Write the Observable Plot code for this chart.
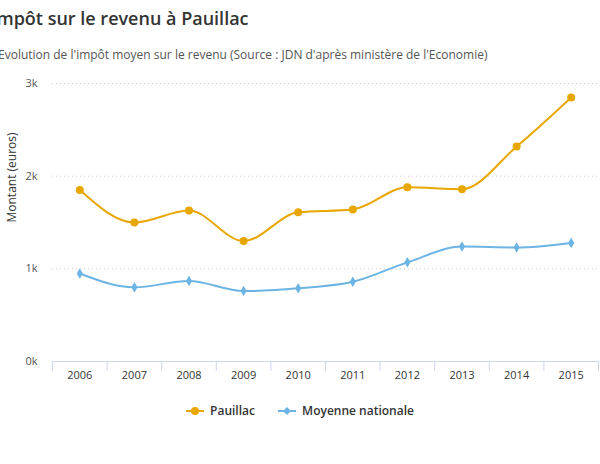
<!DOCTYPE html>
<html><head><meta charset="utf-8">
<script src="https://cdn.jsdelivr.net/npm/d3@7"></script>
<script src="https://cdn.jsdelivr.net/npm/@observablehq/plot@0.6"></script>
<style>
body{margin:0;width:600px;height:464px;overflow:hidden;font-family:"Open Sans",sans-serif;background:#fff;}
#title{position:absolute;left:-9px;top:6px;font-size:18px;font-weight:600;color:#333;white-space:nowrap;}
#sub{position:absolute;left:-2px;top:46px;font-size:12px;color:#555;white-space:nowrap;}
#chart{position:absolute;left:0;top:70px;}
#legend{position:absolute;top:402px;left:0;width:600px;text-align:center;font-size:12px;font-weight:600;color:#333;}
#legend span{margin:0 10px;display:inline-flex;align-items:center;gap:6px}
</style></head><body>
<div id="title">Impôt sur le revenu à Pauillac</div>
<div id="sub">Evolution de l'impôt moyen sur le revenu (Source : JDN d'après ministère de l'Economie)</div>
<div id="chart"></div>
<div id="legend">
<span><svg width="18" height="10"><line x1="0" y1="5" x2="18" y2="5" stroke="#e8a700" stroke-width="2"/><circle cx="9" cy="5" r="4" fill="#e8a700"/></svg>Pauillac</span>
<span><svg width="18" height="10"><line x1="0" y1="5" x2="18" y2="5" stroke="#6cb4e4" stroke-width="2"/><path d="M9 1L13 5L9 9L5 5Z" fill="#6cb4e4"/></svg>Moyenne nationale</span>
</div>
<script>
const years=[2006,2007,2008,2009,2010,2011,2012,2013,2014,2015];
const pauillac=[1850,1500,1630,1300,1610,1640,1880,1860,2320,2850];
const nationale=[950,800,870,760,790,860,1070,1240,1230,1280];
const yTicks=[0,1000,2000,3000];
const edges=d3.range(2005.5,2016,1);
const P=years.map((y,i)=>({year:y,v:pauillac[i]}));
const N=years.map((y,i)=>({year:y,v:nationale[i]}));
const cP="#e8a700",cN="#6cb4e4";
const chart=Plot.plot({
 width:600,height:322,marginLeft:52,marginRight:2,marginTop:13,marginBottom:31,
 style:{fontFamily:"Open Sans, sans-serif",fontSize:"11px",color:"#333"},
 x:{domain:[2005.5,2015.5]},
 y:{domain:[0,3000]},
 marks:[
  Plot.gridY(yTicks.slice(1),{stroke:"#ccc",strokeOpacity:1,strokeDasharray:"1,3"}),
  Plot.ruleY([0],{stroke:"#ccd6eb"}),
  Plot.axisY(yTicks,{tickSize:0,tickFormat:d=>d/1000+"k",label:null,fontSize:11,fill:"#555",dx:-6}),
  Plot.text(["Montant (euros)"],{frameAnchor:"left",rotate:-90,dx:-40,fontSize:12,fill:"#333"}),
  Plot.axisX(edges,{tickSize:10,stroke:"#ccd6eb",tickFormat:()=>"",label:null}),
  Plot.axisX(years,{tickSize:0,tickFormat:d=>String(d),label:null,fill:"#333",tickPadding:10}),
  Plot.line(N,{x:"year",y:"v",stroke:cN,strokeWidth:2,curve:"monotone-x"}),
  Plot.dot(N,{x:"year",y:"v",fill:cN,symbol:"diamond",r:3.2}),
  Plot.line(P,{x:"year",y:"v",stroke:cP,strokeWidth:2,curve:"monotone-x"}),
  Plot.dot(P,{x:"year",y:"v",fill:cP,r:4})
 ]
});
document.getElementById("chart").appendChild(chart);
</script></body></html>
